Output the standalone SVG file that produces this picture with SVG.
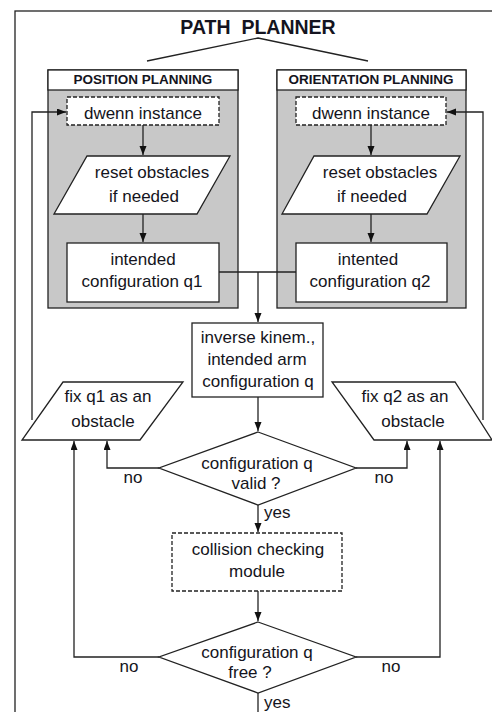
<svg xmlns="http://www.w3.org/2000/svg" width="492" height="712" viewBox="0 0 492 712">
  <style>
    .ln { fill: none; stroke: #222; stroke-width: 1.3; }
    .box { fill: #fff; stroke: #222; stroke-width: 1.3; }
    .dash { fill: #fff; stroke: #222; stroke-width: 1.3; stroke-dasharray: 4 2; }
    .panel { fill: #c8c8c8; stroke: #222; stroke-width: 1.3; }
    .t { font-family: "Liberation Sans", Arial, Helvetica, sans-serif; font-size: 17px; fill: #141420; text-anchor: middle; }
    .lbl { font-family: "Liberation Sans", Arial, Helvetica, sans-serif; font-size: 17px; fill: #141420; text-anchor: middle; }
    .hdr { font-family: "Liberation Sans", Arial, Helvetica, sans-serif; font-size: 13.5px; font-weight: bold; fill: #141420; text-anchor: middle; }
    .title { font-family: "Liberation Sans", Arial, Helvetica, sans-serif; font-size: 19.5px; font-weight: bold; fill: #141420; text-anchor: middle; }
  </style>
  <defs>
    <marker id="arrow" markerUnits="userSpaceOnUse" markerWidth="10" markerHeight="8" refX="9" refY="3.5" orient="auto">
      <path d="M0,0 L9,3.5 L0,7 z" fill="#111"/>
    </marker>
  </defs>

  <rect width="492" height="712" fill="#fff"/>

  <!-- outer frame and title -->
  <g id="path-planner">
    <rect x="15" y="11" width="490" height="720" class="ln"/>
    <text x="258" y="34" class="title" xml:space="preserve">PATH  PLANNER</text>
  </g>

  <!-- position planning panel -->
  <g id="position-planning">
    <rect x="48" y="70" width="190" height="238" class="panel"/>
    <rect x="48" y="70" width="190" height="20" class="box"/>
    <text x="143" y="84" class="hdr">POSITION PLANNING</text>
  </g>
  <g id="dwenn-1">
    <rect x="67" y="97" width="152" height="28" class="dash"/>
    <text x="143" y="119" class="t">dwenn instance</text>
  </g>
  <g id="reset-1">
    <polygon points="87,156 230,156 197,214 54,214" class="box"/>
    <text x="152" y="178" class="t">reset obstacles</text>
    <text x="144" y="202" class="t">if needed</text>
  </g>
  <g id="intended-q1">
    <rect x="67" y="243" width="152" height="59" class="box"/>
    <text x="143" y="265" class="t">intended</text>
    <text x="142" y="287" class="t">configuration q1</text>
  </g>

  <!-- orientation planning panel -->
  <g id="orientation-planning">
    <rect x="277" y="70" width="189" height="238" class="panel"/>
    <rect x="277" y="70" width="189" height="20" class="box"/>
    <text x="371" y="84" class="hdr">ORIENTATION PLANNING</text>
  </g>
  <g id="dwenn-2">
    <rect x="296" y="97" width="150" height="28" class="dash"/>
    <text x="371" y="119" class="t">dwenn instance</text>
  </g>
  <g id="reset-2">
    <polygon points="314,156 460,156 427,214 282,214" class="box"/>
    <text x="380" y="178" class="t">reset obstacles</text>
    <text x="372" y="202" class="t">if needed</text>
  </g>
  <g id="intended-q2">
    <rect x="296" y="243" width="151" height="59" class="box"/>
    <text x="368" y="265" class="t">intented</text>
    <text x="370" y="287" class="t">configuration q2</text>
  </g>

  <!-- central chain -->
  <g id="inverse-kinematics">
    <rect x="192" y="323" width="131" height="74" class="box"/>
    <text x="258" y="343" class="t">inverse kinem.,</text>
    <text x="257" y="365" class="t">intended arm</text>
    <text x="258" y="387" class="t">configuration q</text>
  </g>
  <g id="fix-q1">
    <polygon points="63,382 183,382 140,440 22,440" class="box"/>
    <text x="108" y="402" class="t">fix q1 as an</text>
    <text x="103" y="427" class="t">obstacle</text>
  </g>
  <g id="fix-q2">
    <polygon points="332,382 455,382 492,440 374,440" class="box"/>
    <text x="405" y="402" class="t">fix q2 as an</text>
    <text x="413" y="427" class="t">obstacle</text>
  </g>
  <g id="valid-check">
    <polygon points="258,432 356,468 258,505 159,468" class="box"/>
    <text x="257" y="469" class="t">configuration q</text>
    <text x="256" y="489" class="t">valid ?</text>
  </g>
  <g id="collision-checking">
    <rect x="172" y="533" width="170" height="58" class="dash"/>
    <text x="258" y="555" class="t">collision checking</text>
    <text x="257" y="577" class="t">module</text>
  </g>
  <g id="free-check">
    <polygon points="258,622 356,657 258,693 159,657" class="box"/>
    <text x="257" y="658" class="t">configuration q</text>
    <text x="250" y="678" class="t">free ?</text>
  </g>

  <!-- connectors -->
  <g id="connectors">
    <path d="M147,61 L258,38 L368,61" class="ln"/>
    <path d="M32,420 V112 H66" class="ln" marker-end="url(#arrow)"/>
    <path d="M483,420 V112 H447" class="ln" marker-end="url(#arrow)"/>
    <path d="M143,125 V155" class="ln" marker-end="url(#arrow)"/>
    <path d="M143,214 V242" class="ln" marker-end="url(#arrow)"/>
    <path d="M371,125 V155" class="ln" marker-end="url(#arrow)"/>
    <path d="M371,214 V242" class="ln" marker-end="url(#arrow)"/>
    <path d="M219,272 H296" class="ln"/>
    <path d="M258,272 V322" class="ln" marker-end="url(#arrow)"/>
    <path d="M258,397 V431" class="ln" marker-end="url(#arrow)"/>
    <path d="M159,468 H107 V441" class="ln" marker-end="url(#arrow)"/>
    <path d="M356,468 H407 V441" class="ln" marker-end="url(#arrow)"/>
    <path d="M258,505 V532" class="ln" marker-end="url(#arrow)"/>
    <path d="M258,591 V621" class="ln" marker-end="url(#arrow)"/>
    <path d="M159,657 H74 V441" class="ln" marker-end="url(#arrow)"/>
    <path d="M356,657 H440 V441" class="ln" marker-end="url(#arrow)"/>
    <path d="M258,693 V712" class="ln"/>
    <text x="133" y="483" class="lbl">no</text>
    <text x="384" y="483" class="lbl">no</text>
    <text x="264" y="518" class="lbl" style="text-anchor:start">yes</text>
    <text x="129" y="672" class="lbl">no</text>
    <text x="391" y="672" class="lbl">no</text>
    <text x="264" y="708" class="lbl" style="text-anchor:start">yes</text>
  </g>
</svg>
